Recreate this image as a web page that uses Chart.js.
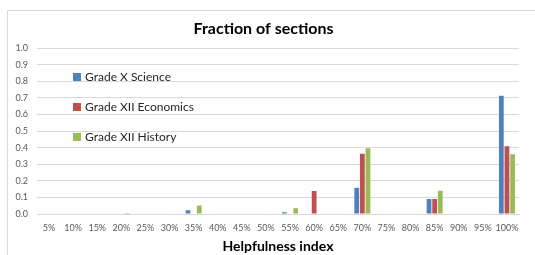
<!DOCTYPE html>
<html>
<head>
<meta charset="utf-8">
<script src="https://cdn.jsdelivr.net/npm/chart.js@4/dist/chart.umd.min.js"></script>
<style>
  html, body { margin: 0; padding: 0; background: #fff; }
  #wrap { position: relative; width: 535px; height: 255px; overflow: hidden; }
  #frame { position: absolute; left: 7px; top: 10px; width: 540px; height: 260px; border: 1px solid #d9d9d9; box-sizing: border-box; }
  #chart { position: absolute; left: 0; top: 0; }
  #legend { position: absolute; left: 73px; top: 70px; font-family: Lato, "Open Sans", sans-serif; font-size: 12px; color: #262626; }
  .item { height: 30px; display: flex; align-items: flex-start; line-height: 14px; }
  .box { width: 8px; height: 8px; margin: 3px 4px 0 0; }
</style>
</head>
<body>
<div id="wrap">
  <div id="frame"></div>
  <canvas id="chart" width="535" height="255"></canvas>
  <div id="legend"></div>
</div>
<script>
// categories along the x axis
const categories = ['5%', '10%', '15%', '20%', '25%', '30%', '35%', '40%', '45%', '50%',
  '55%', '60%', '65%', '70%', '75%', '80%', '85%', '90%', '95%', '100%'];

// fraction of sections per helpfulness index
const scienceX = [0, 0, 0, 0, 0, 0, 0.022, 0, 0, 0, 0.01, 0, 0, 0.158, 0, 0, 0.09, 0, 0, 0.713];
const economicsXII = [0, 0, 0, 0, 0, 0, 0, 0, 0, 0, 0, 0.138, 0, 0.363, 0, 0, 0.09, 0, 0, 0.408];
const historyXII = [0, 0, 0, 0.006, 0, 0, 0.052, 0, 0, 0, 0.034, 0, 0, 0.397, 0, 0, 0.14, 0, 0, 0.361];

const seriesNames = ['Grade X Science', 'Grade XII Economics', 'Grade XII History'];
const seriesColors = ['#4F81BD', '#C0504D', '#9BBB59'];
const seriesValues = [scienceX, economicsXII, historyXII];

const font = 'Lato, "Open Sans", sans-serif';

const datasets = seriesNames.map((name, i) => ({
  label: name,
  data: seriesValues[i],
  backgroundColor: seriesColors[i],
  borderWidth: 0,
  barPercentage: 0.85,
  categoryPercentage: 0.7,
}));

const chart = new Chart(document.getElementById('chart'), {
  type: 'bar',
  data: { labels: categories, datasets: datasets },
  options: {
    responsive: false,
    animation: false,
    layout: { padding: { left: 8, right: 16, top: 2, bottom: 0 } },
    plugins: {
      legend: { display: false },
      tooltip: { enabled: false },
      title: {
        display: true,
        text: 'Fraction of sections',
        color: '#000',
        font: { family: font, size: 16, weight: 'bold', lineHeight: 1.2 },
        padding: { top: 17, bottom: 10 },
      },
    },
    scales: {
      x: {
        grid: { display: false, drawTicks: false },
        border: { color: '#d9d9d9' },
        ticks: { color: '#595959', font: { family: font, size: 9 }, padding: 9, maxRotation: 0, autoSkip: false },
        title: {
          display: true,
          text: 'Helpfulness index',
          color: '#000',
          font: { family: font, size: 14, weight: 'bold', lineHeight: 1.2 },
          padding: { top: 2, bottom: 0 },
        },
        afterFit: (scale) => { scale.height = 41; },
      },
      y: {
        min: 0,
        max: 1,
        grid: { color: '#d9d9d9', drawTicks: false },
        border: { display: false },
        ticks: {
          stepSize: 0.1,
          color: '#595959',
          font: { family: font, size: 9 },
          padding: 9,
          callback: (v) => v.toFixed(1),
        },
        afterFit: (scale) => { scale.width = 29; },
      },
    },
  },
});

// legend sits inside the plot, stacked vertically
const legend = document.getElementById('legend');
chart.data.datasets.forEach((ds) => {
  const item = document.createElement('div');
  item.className = 'item';
  const box = document.createElement('span');
  box.className = 'box';
  box.style.background = ds.backgroundColor;
  const txt = document.createElement('span');
  txt.textContent = ds.label;
  item.appendChild(box);
  item.appendChild(txt);
  legend.appendChild(item);
});
</script>
</body>
</html>
